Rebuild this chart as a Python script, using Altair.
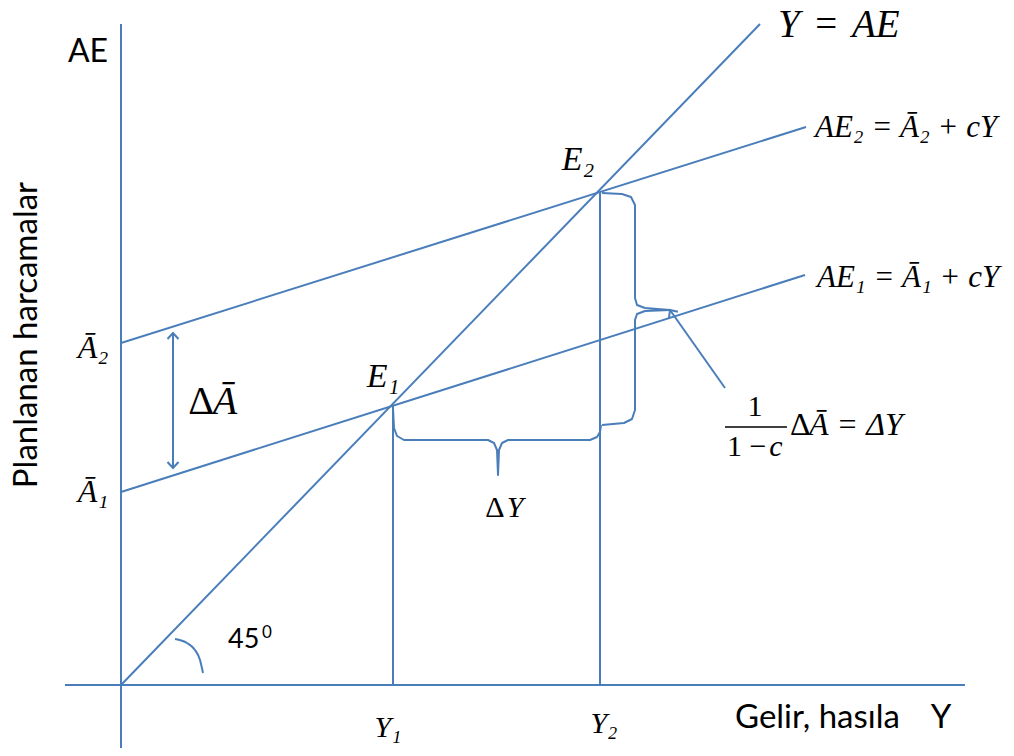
import altair as alt
import pandas as pd

BLUE = "#4A7EBB"

# ---- geometry (u = income axis, v = expenditure axis; origin at axes crossing)
SEG_NAME = ["AE axis", "Y axis", "Y = AE", "AE1", "AE2", "Y1 drop", "Y2 drop", "dA arrow", "pointer"]
SEG_U1 = [0, -56, 0, 0, 0, 272, 479, 52, 604]
SEG_V1 = [-65, 0, 0, 193, 342, 0, 0, 217, 297]
SEG_U2 = [0, 844, 639, 684, 685, 272, 479, 52, 549]
SEG_V2 = [661, 0, 661, 410, 558, 280, 493, 352, 375]

# horizontal brace (Delta Y)
BRACE_H_U = [272, 273, 276, 283, 367, 373, 376, 377, 378, 381, 387, 469, 476, 479, 480]
BRACE_H_V = [277, 257, 249, 245, 245, 242, 235, 210, 235, 242, 245, 245, 248, 253, 260]
# vertical brace (multiplier effect)
BRACE_V_U = [481, 501, 510, 514, 514, 516, 524, 549, 524, 516, 514, 514, 511, 503, 481]
BRACE_V_V = [492, 491, 488, 480, 387, 380, 377, 375, 374, 371, 365, 275, 266, 262, 260]
# 45 degree arc
ARC_U = [54, 66, 74, 79, 82]
ARC_V = [46, 42, 35, 25, 12]

# arrow heads: tip position and direction (degrees clockwise from up)
HEAD_U = [52, 52, 549]
HEAD_V = [352, 217, 375]
HEAD_ANGLE = [0, 180, 325]

# fraction bar
FRAC_U = [604, 666]
FRAC_V = [258, 258]

# ---- text labels
LABEL_TEXT = ["AE", "Planlanan harcamalar", "Gelir, hasıla", "Y", "45", "0"]
LABEL_U = [-33, -94, 614, 820, 107, 146]
LABEL_V = [633, 350, -33, -33, 45, 52]
LABEL_SIZE = [32, 33, 33, 33, 27, 17]
LABEL_ALIGN = ["center", "center", "left", "center", "left", "center"]
LABEL_ANGLE = [0, 270, 0, 0, 0, 0]

MATH_TEXT = ["Y\u2004=\u2004AE", "AE₂ = Ā₂ + cY", "AE₁ = Ā₁ + cY", "Ā = ΔY", "c",
             "Ā₂", "Ā₁", "Ā", "E₁", "E₂", "Y", "Y₁", "Y₂"]
MATH_U = [657, 694, 696, 688, 655, -28, -28, 104, 262, 457, 394, 267, 483]
MATH_V = [660, 557, 407, 260, 238, 337, 193, 283, 308, 525, 177, -43, -39]
MATH_SIZE = [39, 31, 31, 32, 30, 32, 32, 40, 34, 34, 30, 30, 30]
MATH_ALIGN = ["left", "left", "left", "left", "center",
              "center", "center", "center", "center", "center", "center", "center", "center"]

PLAIN_TEXT = ["1", "1 −", "Δ", "Δ", "Δ"]
PLAIN_U = [634, 606, 669, 80, 374]
PLAIN_V = [278, 238, 260, 283, 177]
PLAIN_SIZE = [30, 30, 32, 40, 30]
PLAIN_ALIGN = ["center", "left", "left", "center", "center"]

# ---- build tables
xs = alt.Scale(domain=[-113, 885], nice=False, zero=False)
ys = alt.Scale(domain=[-63, 677], nice=False, zero=False)
X = lambda f: alt.X(f, type="quantitative", scale=xs, axis=None)
Y = lambda f: alt.Y(f, type="quantitative", scale=ys, axis=None)

seg = pd.DataFrame({"name": SEG_NAME, "u": SEG_U1, "v": SEG_V1, "u2": SEG_U2, "v2": SEG_V2})
frac = pd.DataFrame({"name": ["frac"], "u": [FRAC_U[0]], "v": [FRAC_V[0]], "u2": [FRAC_U[1]], "v2": [FRAC_V[1]]})

rules = alt.Chart(seg).mark_rule(color=BLUE, strokeWidth=2).encode(
    x=X("u"), y=Y("v"), x2=alt.X2("u2"), y2=alt.Y2("v2"))
frac_rule = alt.Chart(frac).mark_rule(color="black", strokeWidth=1.5).encode(
    x=X("u"), y=Y("v"), x2=alt.X2("u2"), y2=alt.Y2("v2"))

paths = []
for name, us, vs in [("brace_h", BRACE_H_U, BRACE_H_V), ("brace_v", BRACE_V_U, BRACE_V_V)]:
    for i, (a, b) in enumerate(zip(us, vs)):
        paths.append({"path": name, "o": i, "u": a, "v": b})
paths = pd.DataFrame(paths)
braces = alt.Chart(paths).mark_line(color=BLUE, strokeWidth=2, strokeJoin="round").encode(
    x=X("u"), y=Y("v"), detail="path:N", order="o:Q")

arc = alt.Chart(pd.DataFrame({"u": ARC_U, "v": ARC_V, "o": list(range(len(ARC_U)))})).mark_line(
    color=BLUE, strokeWidth=2, interpolate="monotone").encode(x=X("u"), y=Y("v"), order="o:Q")

heads = alt.Chart(pd.DataFrame({"u": HEAD_U, "v": HEAD_V, "a": HEAD_ANGLE})).mark_point(
    shape="M -0.55 0.6 L 0 0 L 0.55 0.6", size=400, filled=False, color=BLUE, strokeWidth=2, opacity=1
).encode(x=X("u"), y=Y("v"), angle=alt.Angle("a:Q", scale=None))

layers = [rules, braces, arc, heads, frac_rule]

lab = pd.DataFrame({"t": LABEL_TEXT, "u": LABEL_U, "v": LABEL_V, "s": LABEL_SIZE,
                    "al": LABEL_ALIGN, "ang": LABEL_ANGLE})
for al in ["left", "center"]:
    sub = lab[lab.al == al]
    layers.append(alt.Chart(sub).mark_text(font="Lato", align=al, baseline="middle", color="black").encode(
        x=X("u"), y=Y("v"), text="t:N", size=alt.Size("s:Q", scale=None),
        angle=alt.Angle("ang:Q", scale=None)))

math = pd.DataFrame({"t": MATH_TEXT, "u": MATH_U, "v": MATH_V, "s": MATH_SIZE, "al": MATH_ALIGN})
for al in ["left", "center"]:
    sub = math[math.al == al]
    layers.append(alt.Chart(sub).mark_text(font="Liberation Serif", fontStyle="italic", align=al,
                                           baseline="middle", color="black").encode(
        x=X("u"), y=Y("v"), text="t:N", size=alt.Size("s:Q", scale=None)))

plain = pd.DataFrame({"t": PLAIN_TEXT, "u": PLAIN_U, "v": PLAIN_V, "s": PLAIN_SIZE, "al": PLAIN_ALIGN})
for al in ["left", "center"]:
    sub = plain[plain.al == al]
    layers.append(alt.Chart(sub).mark_text(font="Liberation Serif", align=al,
                                           baseline="middle", color="black").encode(
        x=X("u"), y=Y("v"), text="t:N", size=alt.Size("s:Q", scale=None)))

chart = alt.layer(*layers).properties(
    width=998, height=740, padding=0,
    autosize=alt.AutoSizeParams(type="none"),
    background="white",
).configure_view(stroke=None)

chart.save("out.html", embed_options={"renderer": "svg", "actions": False})
